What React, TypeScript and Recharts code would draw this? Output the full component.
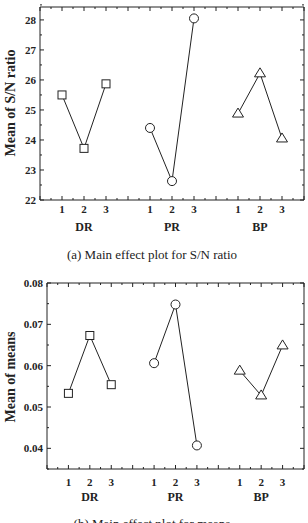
import React from 'react';
import { LineChart, Line, XAxis, YAxis } from 'recharts';

// factor levels and names
const levels = ['1', '2', '3'];
const factors = ['DR', 'PR', 'BP'];
const markers = ['square', 'circle', 'triangle'];

// (a) mean of S/N ratio per level
const snDR = [25.5, 23.72, 25.87];
const snPR = [24.4, 22.63, 28.05];
const snBP = [24.88, 26.22, 24.05];

// (b) mean of means per level
const meanDR = [0.0533, 0.0673, 0.0554];
const meanPR = [0.0606, 0.0748, 0.0407];
const meanBP = [0.0588, 0.0528, 0.0649];

const snTicks = [22, 23, 24, 25, 26, 27, 28];
const meanTicks = [0.04, 0.05, 0.06, 0.07, 0.08];

const INK = '#222';
const FONT = '"Liberation Serif", "Times New Roman", serif';

// x slot of each level: groups of three with a one-slot gap
const levelPos = factors.flatMap((_, i) => levels.map((_, j) => i * 4 + j + 1));
const groupPos = factors.map((_, i) => i * 4 + 2);
const halfSteps = Array.from({ length: 25 }, (_, i) => i * 0.5);

const isMajor = (v: number, majors: number[]) => majors.some((m) => Math.abs(m - v) < 1e-9);

const marker = (kind: string) => (p: any) => {
  const { cx, cy, index } = p;
  if (cx == null || cy == null) return <g key={index} />;
  const common = { fill: '#fff', stroke: INK, strokeWidth: 1 };
  if (kind === 'square')
    return <rect key={index} x={cx - 4} y={cy - 4} width={8} height={8} {...common} />;
  if (kind === 'circle') return <circle key={index} cx={cx} cy={cy} r={4.5} {...common} />;
  return (
    <path key={index} d={`M${cx},${cy - 5.5}L${cx + 5.5},${cy + 3.5}L${cx - 5.5},${cy + 3.5}Z`} {...common} />
  );
};

const textStyle = { fontSize: 11, fontWeight: 700, fill: INK, fontFamily: FONT };

// tick renderers: draw inward tick marks plus (optional) labels
const bottomTick = (gap: number, labelled: number[]) => (p: any) => {
  const v = p.payload.value;
  const ay = p.y - gap;
  const len = isMajor(v, labelled) || Number.isInteger(v) ? 4 : 2;
  return (
    <g>
      <line x1={p.x} x2={p.x} y1={ay} y2={ay - len} stroke={INK} strokeWidth={1} />
      {isMajor(v, labelled) && (
        <text x={p.x} y={p.y} dy="0.71em" textAnchor="middle" {...textStyle}>
          {levels[(v - 1) % 4]}
        </text>
      )}
    </g>
  );
};

const leftTick = (gap: number, majors: number[], fmt: (v: number) => string) => (p: any) => {
  const v = p.payload.value;
  const ax = p.x + gap;
  const major = isMajor(v, majors);
  return (
    <g>
      <line x1={ax} x2={ax + (major ? 4 : 2)} y1={p.y} y2={p.y} stroke={INK} strokeWidth={1} />
      {major && (
        <text x={p.x} y={p.y} dy="0.35em" textAnchor="end" {...textStyle}>
          {fmt(v)}
        </text>
      )}
    </g>
  );
};

const topTick = (p: any) => {
  const v = p.payload.value;
  return <line x1={p.x} x2={p.x} y1={p.y} y2={p.y + (Number.isInteger(v) ? 4 : 2)} stroke={INK} strokeWidth={1} />;
};

const rightTick = (majors: number[]) => (p: any) => {
  const v = p.payload.value;
  return <line x1={p.x} x2={p.x - (isMajor(v, majors) ? 4 : 2)} y1={p.y} y2={p.y} stroke={INK} strokeWidth={1} />;
};

interface PanelProps {
  values: number[][];
  domain: [number, number];
  ticks: number[];
  minor: number[];
  fmt: (v: number) => string;
  height: number;
  top: number;
  yWidth: number;
  levelGap: number;
  groupGap: number;
}

// each series is tied to one pair of axes so that every axis has data; all share the same domains
const axisPairs = [
  { x: 0, y: 0 },
  { x: 'top', y: 'right' },
  { x: 'grp', y: 0 },
];

function Panel({ values, domain, ticks, minor, fmt, height, top, yWidth, levelGap, groupGap }: PanelProps) {
  const series = factors.map((f, i) => ({
    name: f,
    kind: markers[i],
    data: values[i].map((v, j) => ({ x: i * 4 + j + 1, y: v })),
  }));
  const xCommon = { type: 'number' as const, dataKey: 'x', domain: [0, 12], allowDataOverflow: true, interval: 0 as const };
  const yCommon = { type: 'number' as const, dataKey: 'y', domain, allowDataOverflow: true, interval: 0 as const };
  const line = { stroke: INK, strokeWidth: 1 };

  return (
    <LineChart width={308} height={height} margin={{ top, right: 4, left: 0, bottom: 0 }}>
      <XAxis
        {...xCommon}
        xAxisId={0}
        ticks={halfSteps}
        height={20}
        tickSize={0}
        tickMargin={levelGap}
        tickLine={false}
        axisLine={line}
        tick={bottomTick(levelGap, levelPos)}
      />
      <XAxis
        {...xCommon}
        xAxisId="grp"
        ticks={groupPos}
        tickFormatter={(v: number) => factors[(v - 2) / 4]}
        height={20}
        tickSize={0}
        tickMargin={groupGap}
        tickLine={false}
        axisLine={false}
        tick={{ ...textStyle, fontSize: 12 }}
      />
      <XAxis
        {...xCommon}
        xAxisId="top"
        orientation="top"
        mirror
        height={1}
        ticks={halfSteps}
        tickSize={0}
        tickMargin={0}
        tickLine={false}
        axisLine={line}
        tick={topTick}
      />
      <YAxis
        {...yCommon}
        yAxisId={0}
        width={yWidth}
        ticks={minor}
        tickSize={0}
        tickMargin={4}
        tickLine={false}
        axisLine={line}
        tick={leftTick(4, ticks, fmt)}
      />
      <YAxis
        {...yCommon}
        yAxisId="right"
        orientation="right"
        mirror
        width={1}
        ticks={minor}
        tickSize={0}
        tickMargin={0}
        tickLine={false}
        axisLine={line}
        tick={rightTick(ticks)}
      />

      {series.map((s, i) => (
        <Line
          key={s.name}
          xAxisId={axisPairs[i].x}
          yAxisId={axisPairs[i].y}
          data={s.data}
          dataKey="y"
          stroke={INK}
          strokeWidth={1}
          dot={marker(s.kind)}
          activeDot={false}
          isAnimationActive={false}
        />
      ))}
    </LineChart>
  );
}

const caption = (text: string, top: number) => (
  <div
    style={{
      position: 'absolute',
      left: 0,
      top,
      width: 304,
      textAlign: 'center',
      fontFamily: FONT,
      fontSize: 13,
      lineHeight: '15px',
      color: INK,
      whiteSpace: 'nowrap',
    }}
  >
    {text}
  </div>
);

const yLabel = (text: string, cy: number) => (
  <div
    style={{
      position: 'absolute',
      left: 11,
      top: cy,
      transform: 'translate(-50%, -50%) rotate(-90deg)',
      fontFamily: FONT,
      fontWeight: 700,
      fontSize: 14,
      color: INK,
      whiteSpace: 'nowrap',
    }}
  >
    {text}
  </div>
);

export default function App() {
  const snMinor = Array.from({ length: 14 }, (_, i) => 22 + i * 0.5);
  const meanMinor = Array.from({ length: 10 }, (_, i) => Math.round((0.035 + i * 0.005) * 1000) / 1000);
  return (
    <div style={{ position: 'absolute', left: 0, top: 0, width: 308, height: 523, overflow: 'hidden', background: '#fff' }}>
      <div style={{ position: 'absolute', left: 0, top: 0 }}>
        <Panel
          values={[snDR, snPR, snBP]}
          domain={[22, 28.43]}
          ticks={snTicks}
          minor={snMinor}
          fmt={(v) => String(v)}
          height={240}
          top={7}
          yWidth={40}
          levelGap={5}
          groupGap={2}
        />
      </div>
      {yLabel('Mean of S/N ratio', 103)}
      {caption('(a) Main effect plot for S/N ratio', 247)}
      <div style={{ position: 'absolute', left: 0, top: 260 }}>
        <Panel
          values={[meanDR, meanPR, meanBP]}
          domain={[0.035, 0.08]}
          ticks={meanTicks}
          minor={meanMinor}
          fmt={(v) => v.toFixed(2)}
          height={249}
          top={23}
          yWidth={47}
          levelGap={9}
          groupGap={3}
        />
      </div>
      {yLabel('Mean of means', 377)}
      {caption('(b) Main effect plot for means', 516)}
    </div>
  );
}
